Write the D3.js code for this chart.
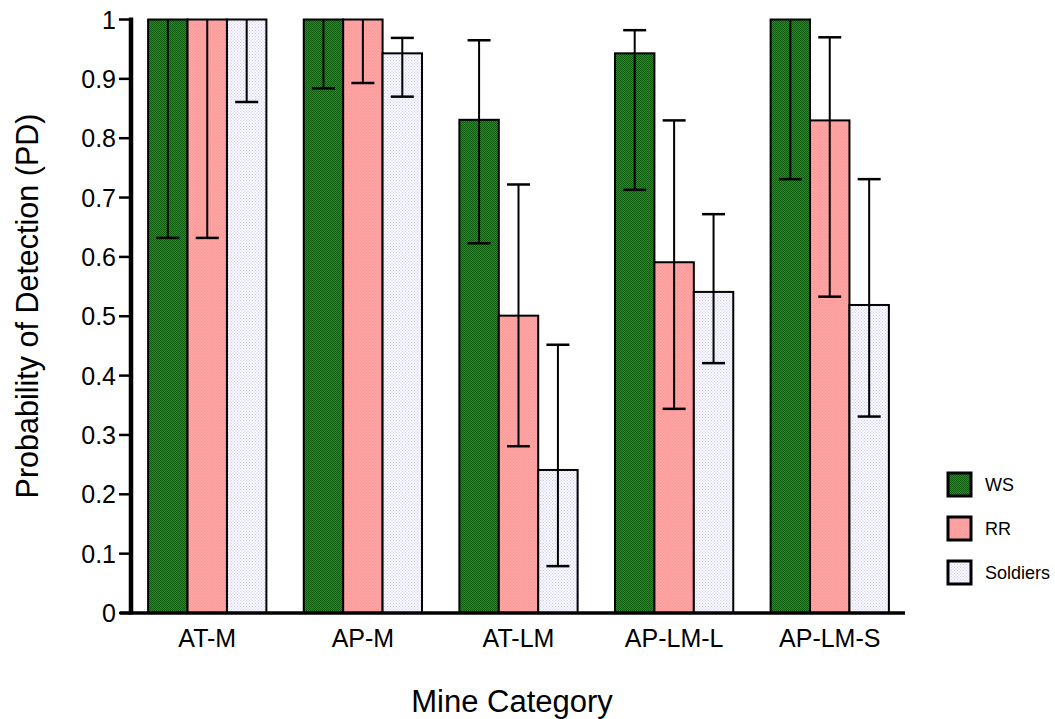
<!DOCTYPE html>
<html>
<head>
<meta charset="utf-8">
<script src="https://cdn.jsdelivr.net/npm/d3@7"></script>
<style>
  body { margin: 0; background: #fff; }
  text { font-family: "Liberation Sans", Arial, sans-serif; fill: #000; }
</style>
</head>
<body>
<div id="plot"></div>
<script>
// data
var categories = ["AT-M", "AP-M", "AT-LM", "AP-LM-L", "AP-LM-S"];
var seriesNames = ["WS", "RR", "Soldiers"];
var wsValues = [1, 1, 0.831, 0.943, 1],
    wsLower  = [0.632, 0.884, 0.623, 0.713, 0.731],
    wsUpper  = [1, 1, 0.965, 0.982, 1];
var rrValues = [1, 1, 0.501, 0.591, 0.830],
    rrLower  = [0.632, 0.893, 0.281, 0.344, 0.533],
    rrUpper  = [1, 1, 0.722, 0.830, 0.970];
var solValues = [1, 0.943, 0.241, 0.541, 0.519],
    solLower  = [0.861, 0.870, 0.079, 0.421, 0.331],
    solUpper  = [1, 0.969, 0.452, 0.672, 0.731];
var yTicks = [0, 0.1, 0.2, 0.3, 0.4, 0.5, 0.6, 0.7, 0.8, 0.9, 1];

var series = [
  {name: "WS", values: wsValues, lower: wsLower, upper: wsUpper, fill: "url(#patWS)"},
  {name: "RR", values: rrValues, lower: rrLower, upper: rrUpper, fill: "url(#patRR)"},
  {name: "Soldiers", values: solValues, lower: solLower, upper: solUpper, fill: "url(#patSol)"}
];

var rows = [];
series.forEach(function(s, si) {
  categories.forEach(function(c, ci) {
    rows.push({cat: c, series: s.name, value: s.values[ci], lo: s.lower[ci], hi: s.upper[ci], fill: s.fill});
  });
});

var width = 1055, height = 719;
var svg = d3.select("#plot").append("svg")
    .attr("width", width)
    .attr("height", height);

/* patterns */
var defs = svg.append("defs");
function dotPattern(id, bg, dot, size) {
  var p = defs.append("pattern")
      .attr("id", id)
      .attr("patternUnits", "userSpaceOnUse")
      .attr("width", size).attr("height", size);
  p.append("rect").attr("width", size).attr("height", size).attr("fill", bg);
  p.append("rect").attr("x", 0).attr("y", 0).attr("width", 1).attr("height", 1).attr("fill", dot);
  p.append("rect").attr("x", size / 2).attr("y", size / 2).attr("width", 1).attr("height", 1).attr("fill", dot);
}
dotPattern("patWS", "#1f8f1f", "#0d5e0d", 2);
dotPattern("patRR", "#ffa3a3", "#f59595", 3);
dotPattern("patSol", "#f7f7fd", "#cfcff0", 3);

/* scales */
var y = d3.scaleLinear().domain([0, 1]).range([613, 19.5]);
var x0 = d3.scaleBand().domain(categories).range([131, 906])
    .paddingInner(0.24).paddingOuter(0.11);
var x1 = d3.scaleBand().domain(seriesNames).range([0, x0.bandwidth()]);

/* bars */
var bars = svg.append("g");
bars.selectAll("rect")
  .data(rows)
  .enter().append("rect")
    .attr("x", function(d) { return x0(d.cat) + x1(d.series); })
    .attr("y", function(d) { return y(d.value); })
    .attr("width", x1.bandwidth())
    .attr("height", function(d) { return y(0) - y(d.value); })
    .attr("fill", function(d) { return d.fill; })
    .attr("stroke", "#000")
    .attr("stroke-width", 2);

/* error bars */
var capW = 23;
var err = svg.append("g").attr("stroke", "#000");
rows.forEach(function(d) {
  var cx = x0(d.cat) + x1(d.series) + x1.bandwidth() / 2;
  err.append("line")
    .attr("x1", cx).attr("x2", cx)
    .attr("y1", y(d.hi)).attr("y2", y(d.lo))
    .attr("stroke-width", 2);
  err.append("line")
    .attr("x1", cx - capW / 2).attr("x2", cx + capW / 2)
    .attr("y1", y(d.lo)).attr("y2", y(d.lo))
    .attr("stroke-width", 2.5);
  if (d.hi > d.value) {
    err.append("line")
      .attr("x1", cx - capW / 2).attr("x2", cx + capW / 2)
      .attr("y1", y(d.hi)).attr("y2", y(d.hi))
      .attr("stroke-width", 2.5);
  }
});

/* y axis */
var yAxis = svg.append("g");
yAxis.append("line")
  .attr("x1", 131).attr("x2", 131)
  .attr("y1", y(1) - 2).attr("y2", y(0) + 1.5)
  .attr("stroke", "#000").attr("stroke-width", 4.5);
yAxis.selectAll(".tick")
  .data(yTicks)
  .enter().append("line")
    .attr("x1", 119).attr("x2", 131)
    .attr("y1", function(d) { return y(d); })
    .attr("y2", function(d) { return y(d); })
    .attr("stroke", "#000").attr("stroke-width", 2.5);
yAxis.selectAll("text")
  .data(yTicks)
  .enter().append("text")
    .attr("x", 116)
    .attr("y", function(d) { return y(d); })
    .attr("dy", "0.36em")
    .attr("text-anchor", "end")
    .style("font-size", "25px")
    .text(function(d) { return d === 0 ? "0" : d === 1 ? "1" : d3.format(".1f")(d); });

/* x axis */
svg.append("line")
  .attr("x1", 120).attr("x2", 905)
  .attr("y1", y(0)).attr("y2", y(0))
  .attr("stroke", "#000").attr("stroke-width", 3.5);
svg.append("g").selectAll("text")
  .data(categories)
  .enter().append("text")
    .attr("x", function(d) { return x0(d) + x0.bandwidth() / 2; })
    .attr("y", 647)
    .attr("text-anchor", "middle")
    .style("font-size", "25px")
    .text(function(d) { return d; });

/* titles */
svg.append("text")
  .attr("x", 512).attr("y", 712)
  .attr("text-anchor", "middle")
  .style("font-size", "31px")
  .text("Mine Category");
svg.append("text")
  .attr("transform", "translate(38,306) rotate(-90)")
  .attr("text-anchor", "middle")
  .style("font-size", "30.5px")
  .text("Probability of Detection (PD)");

/* legend */
var legend = svg.append("g");
series.forEach(function(s, i) {
  var ly = 473 + i * 44;
  legend.append("rect")
    .attr("x", 948).attr("y", ly)
    .attr("width", 23).attr("height", 23)
    .attr("fill", s.fill)
    .attr("stroke", "#000").attr("stroke-width", 3);
  legend.append("text")
    .attr("x", 985).attr("y", ly + 12)
    .attr("dy", "0.36em")
    .style("font-size", "18px")
    .text(s.name);
});
</script>
</body>
</html>
